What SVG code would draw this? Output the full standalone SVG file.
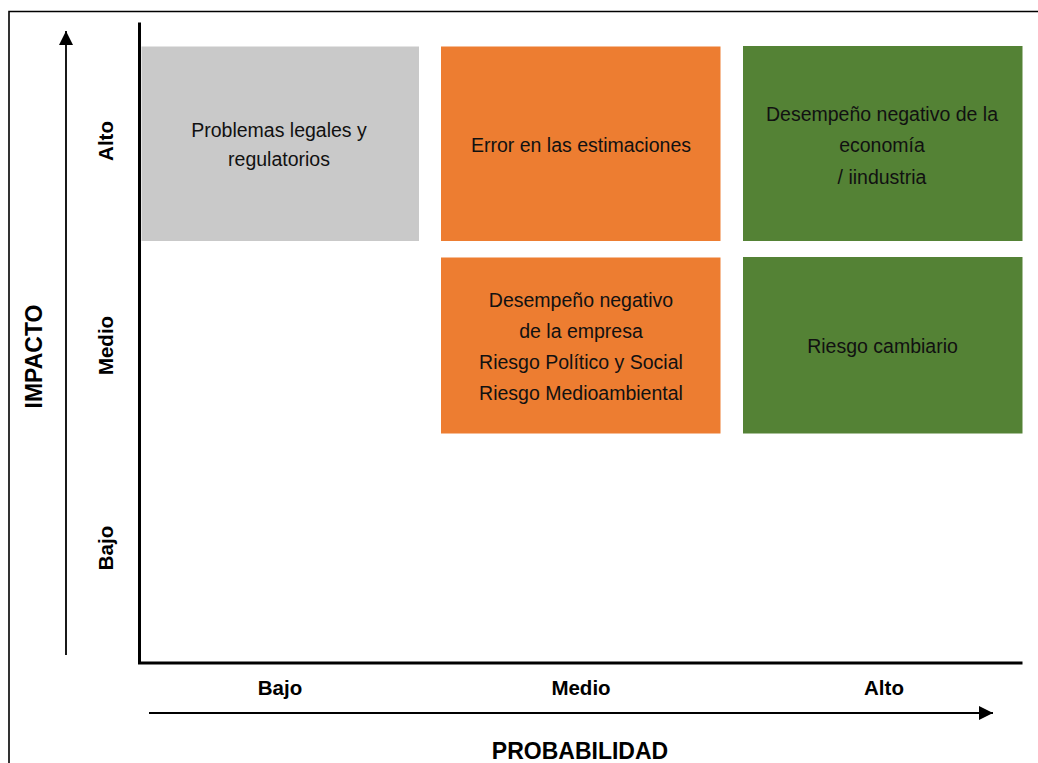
<svg xmlns="http://www.w3.org/2000/svg" width="1038" height="763" viewBox="0 0 1038 763">
<style>
.box text{font-family:"Liberation Sans",Arial,sans-serif;font-size:19.5px;fill:#111;text-anchor:middle}
.lbl{font-family:"Liberation Sans",Arial,sans-serif;font-size:20.5px;font-weight:bold;fill:#000;text-anchor:middle}
.ttl{font-family:"Liberation Sans",Arial,sans-serif;font-size:23px;font-weight:bold;fill:#000;text-anchor:middle}
.gray{fill:#c9c9c9}.orange{fill:#ed7d31}.green{fill:#548235}
</style>
<defs>
<marker id="ah" markerWidth="14" markerHeight="14" refX="14" refY="7" orient="auto" markerUnits="userSpaceOnUse"><path d="M0,0 L14,7 L0,14 Z" fill="#000"/></marker>
</defs>
<rect width="1038" height="763" fill="#fff"/>
<path d="M9,763 V11.5 H1038" fill="none" stroke="#000" stroke-width="1.6"/>
<g id="connectors">
<line x1="66" y1="655" x2="66" y2="31" stroke="#000" stroke-width="1.8" marker-end="url(#ah)"/>
<line x1="149" y1="713" x2="993" y2="713" stroke="#000" stroke-width="1.8" marker-end="url(#ah)"/>
<path d="M139.5,22.5 V663 H1022.5" fill="none" stroke="#000" stroke-width="3"/>
</g>
<g id="n-legal" class="box"><rect class="gray" x="141.5" y="46.5" width="277.5" height="194.5"/><text x="279" y="136.5">Problemas legales y</text><text x="279" y="166">regulatorios</text></g>
<g id="n-error" class="box"><rect class="orange" x="441" y="46.5" width="279.5" height="194.5"/><text x="581" y="152">Error en las estimaciones</text></g>
<g id="n-economia" class="box"><rect class="green" x="743" y="46" width="279.5" height="195"/><text x="882" y="120.5">Desempeño negativo de la</text><text x="882" y="152">economía</text><text x="882" y="183.5">/ iindustria</text></g>
<g id="n-empresa" class="box"><rect class="orange" x="441" y="257.5" width="279.5" height="176"/><text x="581" y="307">Desempeño negativo</text><text x="581" y="338">de la empresa</text><text x="581" y="369">Riesgo Político y Social</text><text x="581" y="400">Riesgo Medioambiental</text></g>
<g id="n-cambiario" class="box"><rect class="green" x="743" y="257" width="279.5" height="176.5"/><text x="882.5" y="353">Riesgo cambiario</text></g>
<g id="x-labels">
<text class="lbl" x="280" y="695">Bajo</text>
<text class="lbl" x="581" y="695">Medio</text>
<text class="lbl" x="884" y="695">Alto</text>
<text class="ttl" x="580" y="759">PROBABILIDAD</text>
</g>
<g id="y-labels">
<text class="lbl" transform="translate(113,141) rotate(-90)">Alto</text>
<text class="lbl" transform="translate(113,345.5) rotate(-90)">Medio</text>
<text class="lbl" transform="translate(113,548) rotate(-90)">Bajo</text>
<text class="ttl" transform="translate(42,356.5) rotate(-90)">IMPACTO</text>
</g>
</svg>
